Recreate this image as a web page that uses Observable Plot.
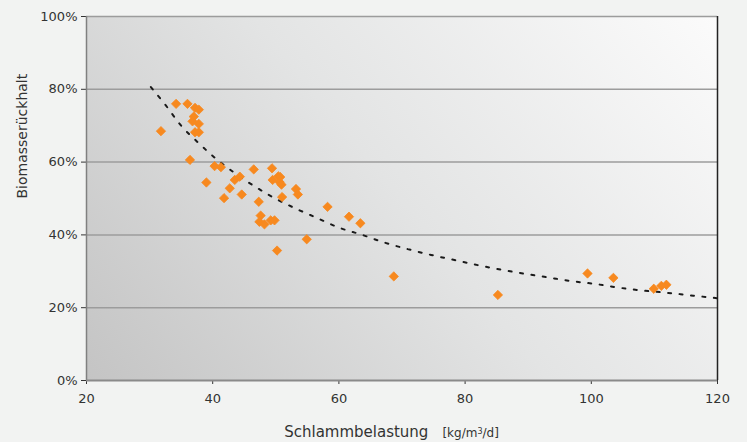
<!DOCTYPE html>
<html>
<head>
<meta charset="utf-8">
<script src="https://cdn.jsdelivr.net/npm/d3@7"></script>
<script src="https://cdn.jsdelivr.net/npm/@observablehq/plot@0.6"></script>
<style>
  html, body { margin: 0; padding: 0; background: #f2f3f2; }
</style>
</head>
<body>
<div id="chart"></div>
<script>
// Measured points: Schlammbelastung [kg/m³/d] vs Biomasserückhalt [%]
const loadX = [31.8, 34.2, 36.0, 37.2, 37.8, 37.0, 36.8, 37.8, 37.2, 37.8, 36.4, 39.0, 40.3, 41.3, 41.8, 42.7, 43.5, 44.3, 44.6, 46.5, 47.3, 49.4, 49.5, 50.4, 50.7, 50.6, 50.9, 51.0, 53.2, 53.5, 47.6, 47.4, 48.2, 49.2, 49.8, 50.2, 54.9, 58.2, 61.6, 63.4, 68.7, 85.2, 99.4, 103.5, 109.9, 111.1, 111.9];
const retention = [68.5, 76.0, 76.0, 74.9, 74.4, 72.5, 71.2, 70.5, 68.2, 68.2, 60.6, 54.4, 58.9, 58.6, 50.1, 52.8, 55.1, 56.0, 51.1, 58.0, 49.1, 58.3, 55.1, 56.1, 55.9, 54.5, 53.8, 50.4, 52.6, 51.1, 45.3, 43.6, 42.9, 44.0, 44.0, 35.7, 38.8, 47.7, 45.0, 43.2, 28.6, 23.5, 29.4, 28.2, 25.2, 26.0, 26.3];

// Trend line (dotted)
const trendX = [30.2, 32.6, 34.9, 37.6, 40.4, 43.4, 46.5, 49.7, 53.2, 56.6, 60.0, 63.7, 67.2, 70.9, 74.6, 78.3, 82.0, 85.8, 89.5, 93.2, 96.9, 100.7, 104.4, 108.2, 112.0, 115.7, 120.0];
const trendY = [80.6, 75.5, 70.2, 65.5, 61.1, 57.1, 53.5, 50.2, 47.2, 44.6, 42.0, 40.0, 37.9, 36.1, 34.5, 33.1, 31.7, 30.4, 29.3, 28.3, 27.3, 26.5, 25.5, 24.7, 24.1, 23.4, 22.6];

const xTicks = [20, 40, 60, 80, 100, 120];
const yTicks = [0, 20, 40, 60, 80, 100];
const yTickLabels = ["0%", "20%", "40%", "60%", "80%", "100%"];

const points = loadX.map((x, i) => ({x, y: retention[i]}));
const trend = trendX.map((x, i) => ({x, y: trendY[i]}));

function background(index, scales) {
  const {x, y} = scales;
  const x0 = x(20), x1 = x(120), y0 = y(0), y1 = y(100);
  const g = d3.create("svg:g");
  const grad = g.append("defs").append("linearGradient")
    .attr("id", "plotbg")
    .attr("gradientUnits", "userSpaceOnUse")
    .attr("x1", x0).attr("y1", y0)
    .attr("x2", x0 + 0.775 * 718).attr("y2", y0 - 0.632 * 718);
  grad.append("stop").attr("offset", "0").attr("stop-color", "#c4c4c4");
  grad.append("stop").attr("offset", "0.5").attr("stop-color", "#e3e4e4");
  grad.append("stop").attr("offset", "1").attr("stop-color", "#fbfbfb");
  g.append("rect")
    .attr("x", x0).attr("y", y1)
    .attr("width", x1 - x0).attr("height", y0 - y1)
    .attr("fill", "url(#plotbg)");
  return g.node();
}

function xLabel(index, scales) {
  const {x} = scales;
  const cx = (x(20) + x(120)) / 2;
  const t = d3.create("svg:text")
    .attr("x", cx - 10).attr("y", 437)
    .attr("text-anchor", "middle")
    .attr("fill", "#333")
    .attr("font-family", "DejaVu Sans, Verdana, sans-serif");
  t.append("tspan").attr("font-size", "15px").text("Schlammbelastung");
  t.append("tspan").attr("font-size", "12px").attr("dx", "14").text("[kg/m");
  t.append("tspan").attr("font-size", "8px").attr("dy", "-3").text("3");
  t.append("tspan").attr("font-size", "12px").attr("dy", "3").text("/d]");
  return t.node();
}

const chart = Plot.plot({
  width: 747,
  height: 442,
  marginLeft: 86,
  marginRight: 30,
  marginTop: 16,
  marginBottom: 62,
  style: {
    background: "#f2f3f2",
    fontFamily: "DejaVu Sans, Verdana, sans-serif",
    fontSize: "13px",
    color: "#333"
  },
  x: {domain: [20, 120], ticks: xTicks, label: null, tickSize: 4, tickPadding: 9},
  y: {domain: [0, 100], ticks: yTicks, label: null, tickSize: 5, tickPadding: 4,
      tickFormat: d => yTickLabels[yTicks.indexOf(d)]},
  marks: [
    background,
    Plot.ruleY(yTicks.filter(d => d > 0), {stroke: "#9c9c9c", strokeWidth: 1.5}),
    Plot.ruleX([120], {stroke: "#222", strokeWidth: 1.5}),
    Plot.ruleX([20], {stroke: "#808080", strokeWidth: 1.5}),
    Plot.ruleY([0], {stroke: "#8a8a8a", strokeWidth: 2}),
    Plot.line(trend, {x: "x", y: "y", curve: "monotone-x", stroke: "#1a1a1a", strokeWidth: 2, strokeDasharray: "3,8.5"}),
    Plot.dot(points, {x: "x", y: "y", symbol: "diamond2", r: 4.2, fill: "#f7891f", stroke: "#f7891f", strokeWidth: 0.8}),
    Plot.text(["Biomasserückhalt"], {frameAnchor: "left", dx: -64, rotate: -90, fontSize: 14, fill: "#333", text: d => d}),
    xLabel
  ]
});
document.getElementById("chart").appendChild(chart);
</script>
</body>
</html>
